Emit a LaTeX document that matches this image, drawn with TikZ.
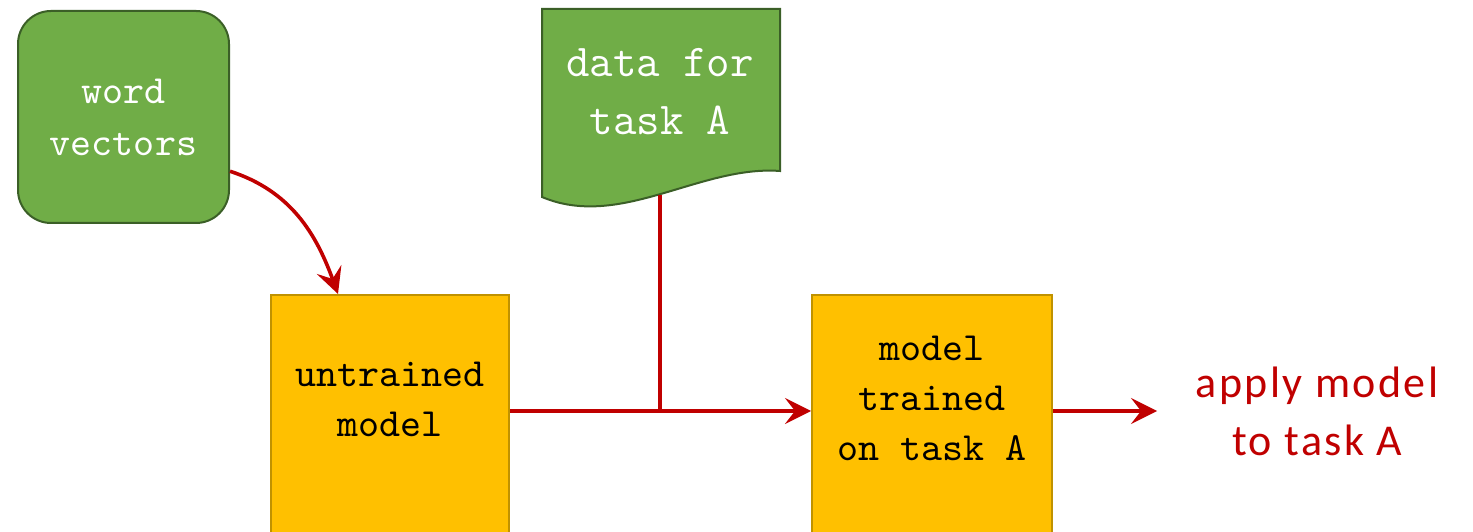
\documentclass[tikz,border=0pt]{standalone}
\usepackage{fontspec}
\usetikzlibrary{arrows.meta,positioning}
\newfontfamily\applyfont{Carlito}[LetterSpace=5.5]

\definecolor{greenfill}{HTML}{70AD47}
\definecolor{greenline}{HTML}{3B5F27}
\definecolor{goldfill}{HTML}{FFC000}
\definecolor{goldline}{HTML}{C09200}
\definecolor{flowred}{HTML}{C00000}

\tikzset{
  flow/.style={draw=flowred, line width=0.9pt},
  flowarrow/.style={flow, -{Stealth[length=6.5pt,width=6.5pt,inset=2.5pt]}},
  greenbox/.style={draw=greenline, fill=greenfill, line width=0.5pt},
  modelbox/.style={draw=goldline, fill=goldfill, line width=0.5pt, anchor=north, inner sep=0pt,
    minimum width=59.5pt, align=center, font=\fontsize{10}{12.5}\selectfont\ttfamily},
}

\begin{document}
\begin{tikzpicture}[x=0.25pt, y=-0.25pt]
  \useasboundingbox (0,0) rectangle (1473,532);
  % inputs
  \node[greenbox, rounded corners=8.25pt, minimum width=52.75pt, minimum height=53pt, align=center,
    text=white, font=\fontsize{10}{13}\selectfont\ttfamily] (word) at (123.5,117) {word\\vectors};
  \filldraw[greenbox] (542,9) -- (780,9) -- (780,171)
    .. controls (700,165) and (620,230) .. (542,197) -- cycle;
  \node[text=white, align=center, font=\fontsize{11.4}{14.5}\selectfont\ttfamily] (data) at (660,92) {data for\\task A};
  \coordinate (datab) at (660,195);
  % models
  \node[modelbox, text height=35.5pt, text depth=26pt] (untrained) at (390,294) {untrained\\model};
  \node[modelbox, minimum width=60pt, text height=41.4pt, text depth=20.1pt] (trained) at (932,294) {model\\trained\\on task A};
  \coordinate (join) at (660,411);
  \coordinate (tip) at (1157,411);
  \node[right=9.5pt of tip, inner sep=0pt, text=flowred, align=center,
    font=\applyfont\fontsize{11}{14.5}\selectfont] (apply) {apply model\\to task A};
  % connectors
  \draw[flowarrow] (word.-27) to[out=-18, in=110] ([xshift=17pt]untrained.north west);
  \draw[flow] (untrained.east |- join) -- (join);
  \draw[flow] (datab) -- (join);
  \draw[flowarrow] (join) -- (trained.west |- join);
  \draw[flowarrow] (trained.east |- join) -- (tip);
\end{tikzpicture}
\end{document}
